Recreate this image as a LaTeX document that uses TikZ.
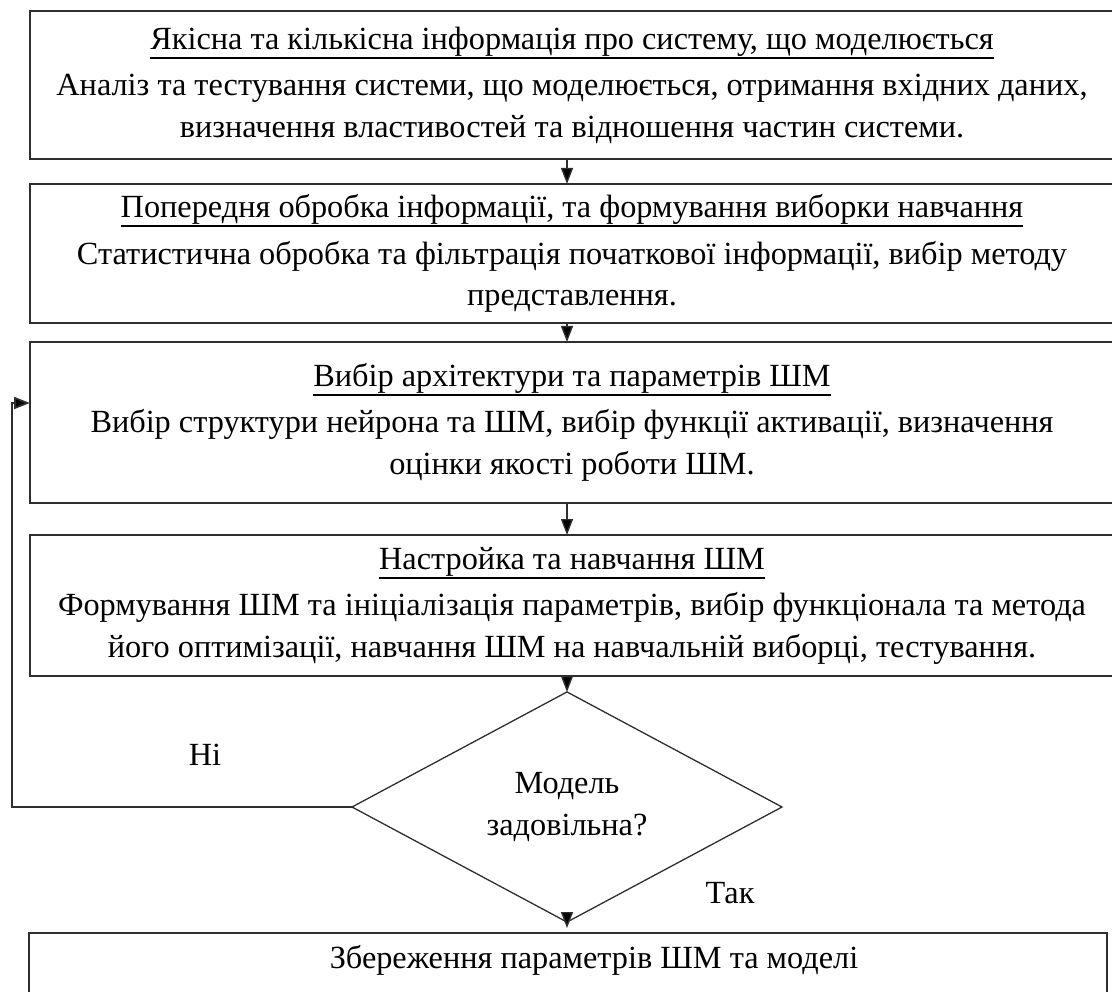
\documentclass[tikz,border=0pt]{standalone}
\usepackage{fontspec}
\setmainfont{Liberation Serif}
\usetikzlibrary{shapes.geometric,arrows.meta,calc}

% underlined heading with a fixed rule below the baseline
\newcommand{\headline}[1]{\leavevmode\setbox0\hbox{#1}\rlap{\vrule width\wd0 height -7.5pt depth 9.5pt}\box0}

\definecolor{linec}{HTML}{2E2E2E}

\tikzset{
  x=1pt, y=-1pt,
  stepbox/.style={draw=linec, line width=2pt, rectangle, minimum width=1084pt,
    inner sep=0pt, outer sep=0pt, align=center, font=\fontsize{32.3}{41.5}\selectfont},
  decision/.style={draw=linec, line width=1.3pt, diamond, minimum width=430pt,
    minimum height=190pt, inner sep=0pt, outer sep=0pt, align=center,
    font=\fontsize{32.3}{42}\selectfont},
  txt/.style={inner sep=0pt, font=\fontsize{32.3}{41.5}\selectfont},
  arr/.style={draw=linec, line width=1.4pt, -{Triangle[length=16pt,width=12pt,fill=black]}},
}

\begin{document}
\begin{tikzpicture}
\useasboundingbox (0,0) rectangle (1112,992);
\clip (0,0) rectangle (1112,992);

% process steps
\node[stepbox, minimum height=148pt] (b1) at (572,85)
  {\headline{Якісна та кількісна інформація про систему, що моделюється}\\[5pt]
   Аналіз та тестування системи, що моделюється, отримання вхідних даних,\\
   визначення властивостей та відношення частин системи.};

\node[stepbox, minimum height=139pt] (b2) at (572,253.5)
  {\headline{Попередня обробка інформації, та формування виборки навчання}\\[5pt]
   Статистична обробка та фільтрація початкової інформації, вибір методу\\
   представлення.};

\node[stepbox, minimum height=161pt, text depth=8pt] (b3) at (572,422.5)
  {\headline{Вибір архітектури та параметрів ШМ}\\[5pt]
   Вибір структури нейрона та ШМ, вибір функції активації, визначення\\
   оцінки якості роботи ШМ.};

\node[stepbox, minimum height=141pt] (b4) at (572,605.5)
  {\headline{Настройка та навчання ШМ}\\[5pt]
   Формування ШМ та ініціалізація параметрів, вибір функціонала та метода\\
   його оптимізації, навчання ШМ на навчальній виборці, тестування.};

% decision
\node[decision] (d) at (567,807) {Модель\\задовільна?};

% final step
\node[stepbox, minimum width=1078pt, minimum height=100pt] (b5) at (568,983) {};
\node[txt] (t5) at (594,960) {Збереження параметрів ШМ та моделі};

% branch labels
\node[txt] (no) at (205,755) {Ні};
\node[txt] (yes) at (730,893) {Так};

% flow
\draw[arr] (b1.south -| d.north) -- (b2.north -| d.north);
\draw[arr] (b2.south -| d.north) -- (b3.north -| d.north);
\draw[arr] (b3.south -| d.north) -- (b4.north -| d.north);
\draw[arr, shorten <=9pt] (b4.south -| d.north) -- (d.north);
\draw[arr, shorten >=5pt] (d.south) -- (b5.north -| d.south);

% return loop
\coordinate (lc) at (12,403);
\draw[arr, line width=1.8pt] (d.west) -| (lc) -- (b3.west |- lc);
\end{tikzpicture}
\end{document}
